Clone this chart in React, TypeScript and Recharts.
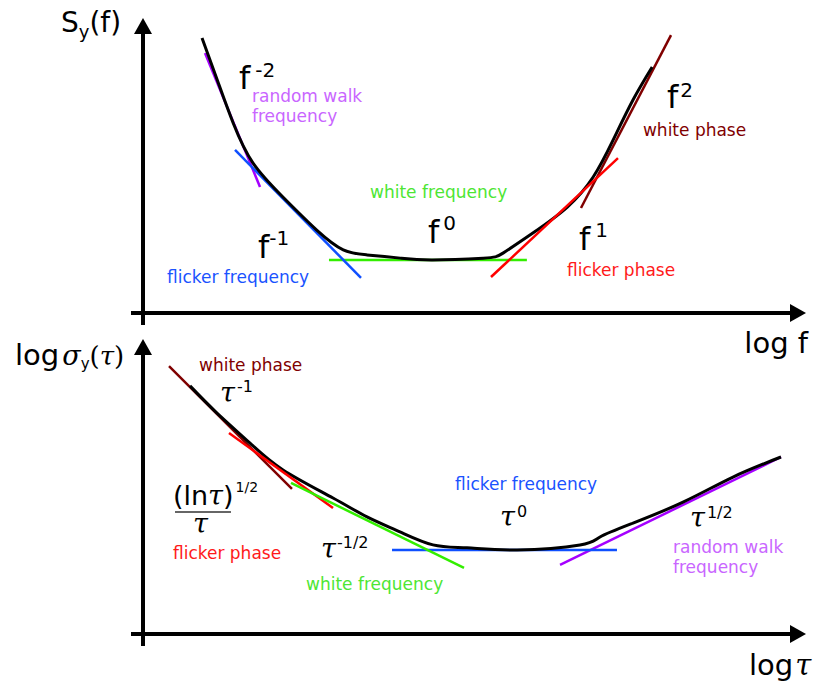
import React from 'react';
import { LineChart, Line, XAxis, YAxis, ReferenceLine, ReferenceDot } from 'recharts';

const SANS = 'DejaVu Sans';
const SERIF = 'DejaVu Serif';

// power spectral density, log f against log S_y(f) (arbitrary decades)
const psdLogF = [0.89, 1.12, 1.36, 1.66, 2.11, 2.62, 3.02, 3.38, 3.88, 4.37, 5.13, 5.43, 5.88, 6.4, 6.79, 7.09, 7.39, 7.68];
const psdLogS = [9.32, 7.9, 6.44, 5.08, 3.93, 2.81, 2.14, 1.97, 1.86, 1.8, 1.86, 2.03, 2.71, 3.59, 4.61, 5.86, 7.22, 8.34];

// asymptotes of each noise type, two end points each
const psdRandomWalk = { x: [0.935, 1.765], y: [8.81, 4.27] };
const psdFlickerFreq = { x: [1.388, 3.288], y: [5.53, 1.19] };
const psdWhiteFreq = { x: [2.805, 5.79], y: [1.8, 1.8] };
const psdFlickerPhase = { x: [5.249, 7.164], y: [1.22, 5.25] };
const psdWhitePhase = { x: [6.606, 7.964], y: [3.56, 9.42] };

// Allan deviation, log tau against log sigma_y(tau)
const adevLogTau = [0.709, 1.116, 1.614, 2.112, 2.866, 3.379, 3.876, 4.374, 4.887, 5.641, 6.591, 6.893, 7.391, 8.145, 8.899, 9.623];
const adevLogSigma = [8.41, 7.49, 6.47, 5.56, 4.61, 3.97, 3.46, 3.02, 2.92, 2.85, 3.02, 3.29, 3.76, 4.47, 5.32, 6.0];

const adevWhitePhase = { x: [0.392, 2.247], y: [9.08, 4.92] };
const adevFlickerPhase = { x: [1.297, 2.866], y: [6.81, 4.27] };
const adevWhiteFreq = { x: [2.232, 4.842], y: [5.12, 2.24] };
const adevFlickerFreq = { x: [3.756, 7.149], y: [2.85, 2.85] };
const adevRandomWalk = { x: [6.29, 9.623], y: [2.34, 6.0] };

const noiseNames = {
  whitePhase: ['white phase'],
  flickerPhase: ['flicker phase'],
  whiteFreq: ['white frequency'],
  flickerFreq: ['flicker frequency'],
  randomWalk: ['random walk', 'frequency'],
};

const lineColor = {
  whitePhase: '#800000',
  flickerPhase: '#ff0000',
  whiteFreq: '#33ee00',
  flickerFreq: '#0f4fff',
  randomWalk: '#a500ff',
};

const textColor = {
  whitePhase: '#800000',
  flickerPhase: '#ff1a1a',
  whiteFreq: '#4de633',
  flickerFreq: '#1a53ff',
  randomWalk: '#c966ff',
};

const toPoints = (xs: number[], ys: number[]) => xs.map((x, i) => ({ x, y: ys[i] }));

const fitLine = (key: string, fit: { x: number[]; y: number[] }, noise: string) => (
  <Line
    key={key}
    data={toPoints(fit.x, fit.y)}
    dataKey="y"
    type="linear"
    stroke={lineColor[noise]}
    strokeWidth={2.5}
    dot={false}
    isAnimationActive={false}
  />
);

const curveLine = (key: string, xs: number[], ys: number[]) => (
  <Line
    key={key}
    data={toPoints(xs, ys)}
    dataKey="y"
    type="natural"
    stroke="#000"
    strokeWidth={3}
    dot={false}
    isAnimationActive={false}
  />
);

// anchor any svg snippet at a data position
const note = (key: string, x: number, y: number, draw: (cx: number, cy: number) => React.ReactNode) => (
  <ReferenceDot
    key={key}
    x={x}
    y={y}
    r={0}
    ifOverflow="visible"
    shape={(p: any) => <g>{draw(p.cx, p.cy)}</g>}
  />
);

const caption = (noise: string) => (cx: number, cy: number) => (
  <text x={cx} y={cy} fontFamily={SANS} fontSize={17} fill={textColor[noise]}>
    {noiseNames[noise].map((t, i) => (
      <tspan key={i} x={cx} dy={i === 0 ? 0 : 20}>
        {t}
      </tspan>
    ))}
  </text>
);

const fPower = (exp: string, gap: number, rise = 13) => (cx: number, cy: number) => (
  <text x={cx} y={cy} fontFamily={SANS} fontSize={32} fill="#000">
    f
    <tspan fontSize={20} dx={gap} dy={-rise}>
      {exp}
    </tspan>
  </text>
);

const tauPower = (exp: string, gap: number, rise = 10) => (cx: number, cy: number) => (
  <text x={cx} y={cy} fontFamily={SERIF} fontStyle="italic" fontSize={27} fill="#000">
    τ
    <tspan fontFamily={SANS} fontStyle="normal" fontSize={16} dx={gap} dy={-rise}>
      {exp}
    </tspan>
  </text>
);

const arrowUp = (cx: number, cy: number) => (
  <path d={`M${cx},${cy} L${cx - 9},${cy + 16} L${cx + 9},${cy + 16} Z`} fill="#000" />
);

const arrowRight = (cx: number, cy: number) => (
  <path d={`M${cx},${cy} L${cx - 16},${cy - 9} L${cx - 16},${cy + 9} Z`} fill="#000" />
);

const axes = (id: string) => [
  <ReferenceLine
    key={id + 'v'}
    segment={[{ x: 0, y: -0.407 }, { x: 0, y: 9.5 }]}
    stroke="#000"
    strokeWidth={4}
    ifOverflow="visible"
  />,
  <ReferenceLine
    key={id + 'h'}
    segment={[{ x: -0.181, y: 0 }, { x: 9.76, y: 0 }]}
    stroke="#000"
    strokeWidth={4}
    ifOverflow="visible"
  />,
  note(id + 'au', 0, 10, arrowUp),
  note(id + 'ar', 10, 0, arrowRight),
];

// both panels share the same 663 x 295 plot box, [0,10] on each axis
const frame = (offset: number, height: number, top: number, bottom: number, children: React.ReactNode) => (
  <div style={{ position: 'absolute', left: 0, top: offset }}>
    <LineChart width={814} height={height} margin={{ top, right: 8, bottom, left: 143 }}>
      <XAxis type="number" dataKey="x" domain={[0, 10]} hide allowDataOverflow />
      <YAxis type="number" domain={[0, 10]} hide allowDataOverflow />
      {children}
    </LineChart>
  </div>
);

export default function App() {
  return (
    <div style={{ position: 'absolute', left: 0, top: 0, width: 814, height: 688, background: '#fff' }}>
      {frame(0, 340, 18, 27, [
        ...axes('psd'),
        fitLine('p-rw', psdRandomWalk, 'randomWalk'),
        fitLine('p-wp', psdWhitePhase, 'whitePhase'),
        fitLine('p-wf', psdWhiteFreq, 'whiteFreq'),
        fitLine('p-ff', psdFlickerFreq, 'flickerFreq'),
        curveLine('p-curve', psdLogF, psdLogS),
        fitLine('p-fp', psdFlickerPhase, 'flickerPhase'),
        note('p-title', -1.237, 9.525, (cx, cy) => (
          <text x={cx} y={cy} fontFamily={SANS} fontSize={28} fill="#000">
            S
            <tspan fontSize={18} dy={6}>y</tspan>
            <tspan dy={-6}>(f)</tspan>
          </text>
        )),
        note('p-rw-exp', 1.448, 7.593, fPower('-2', 5, 12)),
        note('p-rw-txt', 1.644, 7.153, caption('randomWalk')),
        note('p-ff-exp', 1.735, 1.864, fPower('-1', 0)),
        note('p-ff-txt', 0.362, 1.017, caption('flickerFreq')),
        note('p-wf-exp', 4.299, 2.373, fPower('0', 4)),
        note('p-wf-txt', 3.424, 3.898, caption('whiteFreq')),
        note('p-fp-exp', 6.576, 2.136, fPower('1', 5)),
        note('p-fp-txt', 6.395, 1.254, caption('flickerPhase')),
        note('p-wp-exp', 7.903, 6.949, fPower('2', 2, 11)),
        note('p-wp-txt', 7.541, 6.0, caption('whitePhase')),
      ])}
      {frame(318, 370, 21, 54, [
        ...axes('adev'),
        fitLine('a-wp', adevWhitePhase, 'whitePhase'),
        fitLine('a-rw', adevRandomWalk, 'randomWalk'),
        fitLine('a-ff', adevFlickerFreq, 'flickerFreq'),
        curveLine('a-curve', adevLogTau, adevLogSigma),
        fitLine('a-fp', adevFlickerPhase, 'flickerPhase'),
        fitLine('a-wf', adevWhiteFreq, 'whiteFreq'),
        // x-axis title of the spectrum panel sits above this panel's plot box
        note('p-xlabel', 9.07, 9.525, (cx, cy) => (
          <text x={cx} y={cy} fontFamily={SANS} fontSize={29} fill="#000">
            log f
          </text>
        )),
        note('a-title', -1.931, 9.119, (cx, cy) => (
          <text x={cx} y={cy} fontFamily={SANS} fontSize={29} fill="#000">
            log
            <tspan fontFamily={SERIF} fontStyle="italic" fontSize={27} dx={3}>σ</tspan>
            <tspan fontSize={15} dy={4}>y</tspan>
            <tspan fontFamily={SERIF} fontSize={26} dy={-4}>(</tspan>
            <tspan fontFamily={SERIF} fontStyle="italic" fontSize={26}>τ</tspan>
            <tspan fontFamily={SERIF} fontSize={26}>)</tspan>
          </text>
        )),
        note('a-xlabel', 9.14, -1.39, (cx, cy) => (
          <text x={cx} y={cy} fontFamily={SANS} fontSize={29} fill="#000">
            log
            <tspan fontFamily={SERIF} fontStyle="italic" dx={2}>τ</tspan>
          </text>
        )),
        note('a-wp-txt', 0.845, 8.915, caption('whitePhase')),
        note('a-wp-exp', 1.161, 7.864, tauPower('-1', 2)),
        note('a-fp-exp', 0.452, 4.373, (cx, cy) => (
          <g>
            <text x={cx} y={cy} fontFamily={SANS} fontSize={27} fill="#000">
              (ln
              <tspan fontFamily={SERIF} fontStyle="italic">τ</tspan>)
              <tspan fontSize={14} dx={2} dy={-13}>1/2</tspan>
            </text>
            <line x1={cx + 2} x2={cx + 58} y1={cy + 7} y2={cy + 7} stroke="#333" strokeWidth={1.5} />
            <text x={cx + 20} y={cy + 28} fontFamily={SERIF} fontStyle="italic" fontSize={27} fill="#000">
              τ
            </text>
          </g>
        )),
        note('a-fp-txt', 0.452, 2.542, caption('flickerPhase')),
        note('a-wf-exp', 2.685, 2.576, tauPower('-1/2', 1)),
        note('a-wf-txt', 2.459, 1.492, caption('whiteFreq')),
        note('a-ff-txt', 4.706, 4.881, caption('flickerFreq')),
        note('a-ff-exp', 5.385, 3.661, tauPower('0', 2, 9)),
        note('a-rw-exp', 8.25, 3.627, tauPower('1/2', 2, 9)),
        note('a-rw-txt', 7.994, 2.746, caption('randomWalk')),
      ])}
    </div>
  );
}
